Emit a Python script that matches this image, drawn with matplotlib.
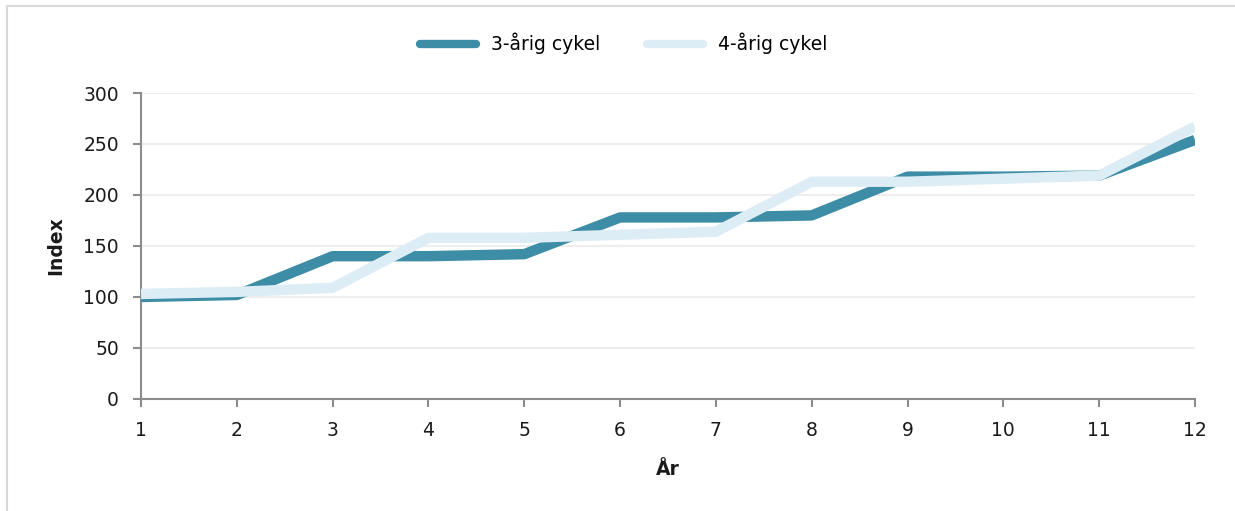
import matplotlib
matplotlib.use("Agg")
import matplotlib.pyplot as plt
from matplotlib.patches import Rectangle

# data
years = list(range(1, 13))
cykel_3 = [100, 102, 140, 140, 142, 178, 178, 180, 218, 218, 219, 254]
cykel_4 = [103, 105, 109, 158, 158, 161, 164, 213, 213, 216, 219, 267]
yticks = [0, 50, 100, 150, 200, 250, 300]

dark = "#3E8DA6"
light = "#DDEDF6"
txt = "#1a1a1a"

plt.rcParams["font.family"] = ["DejaVu Sans"]

fig = plt.figure(figsize=(12.35, 5.11), dpi=100)
ax = fig.add_axes([0.1142, 0.2192, 0.8534, 0.5988])

ax.plot(years, cykel_3, color=dark, lw=7.5, label="3-årig cykel", solid_capstyle="butt", zorder=3)
ax.plot(years, cykel_4, color=light, lw=7.5, label="4-årig cykel", solid_capstyle="butt", zorder=4)

ax.set_xlim(1, 12)
ax.set_ylim(0, 300)
ax.set_xticks(years)
ax.set_yticks(yticks)
ax.grid(axis="y", color="#eeeeee", lw=1.5, zorder=0)
ax.set_axisbelow(True)

for s in ["top", "right"]:
    ax.spines[s].set_visible(False)
for s in ["left", "bottom"]:
    ax.spines[s].set_color("#8c8c8c")
    ax.spines[s].set_linewidth(1.5)
ax.tick_params(axis="both", colors="#8c8c8c", length=6, width=1.5, labelsize=13.5, labelcolor=txt)
ax.tick_params(axis="y", pad=10)
ax.tick_params(axis="x", pad=10)

ax.set_xlabel("År", fontsize=13.5, fontweight="bold", color=txt, labelpad=14)
ax.set_ylabel("Index", fontsize=13.5, fontweight="bold", color=txt, labelpad=13)

leg = fig.legend(loc="center", bbox_to_anchor=(0.505, 0.915), ncol=2, frameon=False,
                 fontsize=13.5, handlelength=3.0, columnspacing=2.5, handletextpad=0.8)
for line in leg.get_lines():
    line.set_linewidth(6)
    line.set_solid_capstyle("round")

# light frame (only top and left edges fall inside the picture)
fig.patches.append(Rectangle((0.0057, -0.1), 1.2, 1.088, transform=fig.transFigure,
                             fill=False, edgecolor="#d9d9d9", lw=1.5))

fig.savefig("out.png", dpi=100, facecolor="white")
